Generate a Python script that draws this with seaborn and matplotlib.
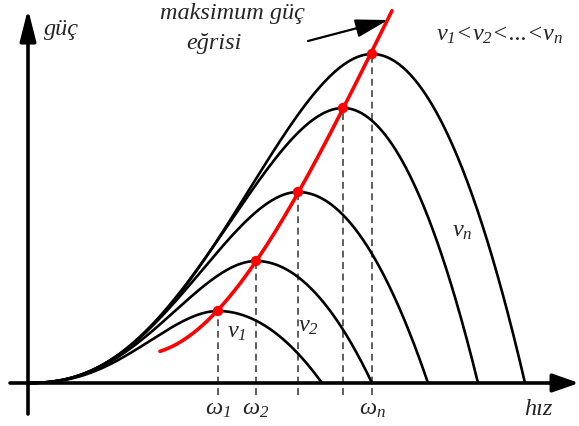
import numpy as np
import pandas as pd
import matplotlib
matplotlib.use('Agg')
import matplotlib.pyplot as plt
import seaborn as sns

# values (x = rotor speed, y = power, pixel units from origin)
curve_names = ['v1', 'v2', 'v3', 'v4', 'vn']
peak_w = [190, 228, 270, 315, 344]
peak_p = [72, 122, 191, 275, 329]
cut_w = [294, 344, 400, 450, 497]

# maximum power curve: ends + the peaks
red_w = [132, 190, 228, 270, 315, 344, 364]
red_p = [32, 72, 122, 191, 275, 329, 374]

tick_labels = [r'$\omega_1$', r'$\omega_2$', r'$\omega_n$']
tick_w = [190, 228, 344]


def shape(w, wp, wc):
    # rising part: smooth start at the origin, flat top at the peak
    t = w / wp
    rise = 0.7 * t**2 + 2.6 * t**3 - 2.3 * t**4
    # falling part: parabola down to the cut-off speed
    u = (w - wp) / (wc - wp)
    fall = 1 - u**2
    return np.clip(np.where(w <= wp, rise, fall), 0, None)


rows = []
for name, wp, pp, wc in zip(curve_names, peak_w, peak_p, cut_w):
    w = np.linspace(0, wc, 400)
    rows.append(pd.DataFrame({'w': w, 'p': pp * shape(w, wp, wc), 'curve': name}))
curves = pd.concat(rows, ignore_index=True)

coef = np.polyfit(red_w, red_p, 3)
rw = np.linspace(red_w[0], red_w[-1], 300)
red = pd.DataFrame({'w': rw, 'p': np.polyval(coef, rw)})

sns.set_style('white')
plt.rcParams['font.family'] = ['Liberation Serif', 'DejaVu Serif']
plt.rcParams['mathtext.fontset'] = 'custom'
plt.rcParams['mathtext.it'] = 'Liberation Serif:italic'
plt.rcParams['mathtext.rm'] = 'Liberation Serif:italic'

fig = plt.figure(figsize=(5.79, 4.27), dpi=100)
ax = fig.add_axes([0, 0, 1, 1])
ax.set_xlim(-28, 551)
ax.set_ylim(-43, 384)
ax.axis('off')

sns.lineplot(data=curves, x='w', y='p', hue='curve', palette=['black'] * 5,
             legend=False, lw=1.9, sort=False, estimator=None, ax=ax)
ax.vlines(peak_w, -12, peak_p, linestyles=(0, (4.5, 3)), color='#333333', lw=1.1, zorder=1)
sns.lineplot(data=red, x='w', y='p', color='#ff0000', lw=2.6, sort=False, estimator=None, ax=ax)
sns.scatterplot(x=peak_w, y=peak_p, color='#ff0000', s=55, edgecolor='none', zorder=5, ax=ax)

# axes with arrows
ax.annotate('', xy=(551, 0), xytext=(-18, 0),
            arrowprops=dict(arrowstyle='-|>,head_length=0.8,head_width=0.28', lw=2.6,
                            color='black', mutation_scale=20, shrinkA=0, shrinkB=0))
ax.annotate('', xy=(0, 374), xytext=(0, -31),
            arrowprops=dict(arrowstyle='-|>,head_length=0.95,head_width=0.24', lw=2.6,
                            color='black', mutation_scale=20, shrinkA=0, shrinkB=0))
ax.annotate('', xy=(360, 363), xytext=(280, 342),
            arrowprops=dict(arrowstyle='-|>,head_length=1.0,head_width=0.28', lw=1.6,
                            color='black', mutation_scale=20, shrinkA=0, shrinkB=0))

txt = dict(fontsize=17.5, style='italic', ha='center', va='center')
ax.text(33, 354, 'güç', **txt)
ax.text(204, 370, 'maksimum güç', **txt)
ax.text(186, 341, 'eğrisi', **txt)
ax.text(472, 349, '$v_1$<$v_2$<...<$v_n$', **txt)
ax.text(434, 152, '$v_n$', **txt)
ax.text(209, 51, '$v_1$', **txt)
ax.text(280, 57, '$v_2$', **txt)
for lab, w in zip(tick_labels, tick_w):
    ax.text(w, -26, lab, **txt)
ax.text(510, -26, 'hız', **txt)

fig.savefig('out.png', dpi=100)
